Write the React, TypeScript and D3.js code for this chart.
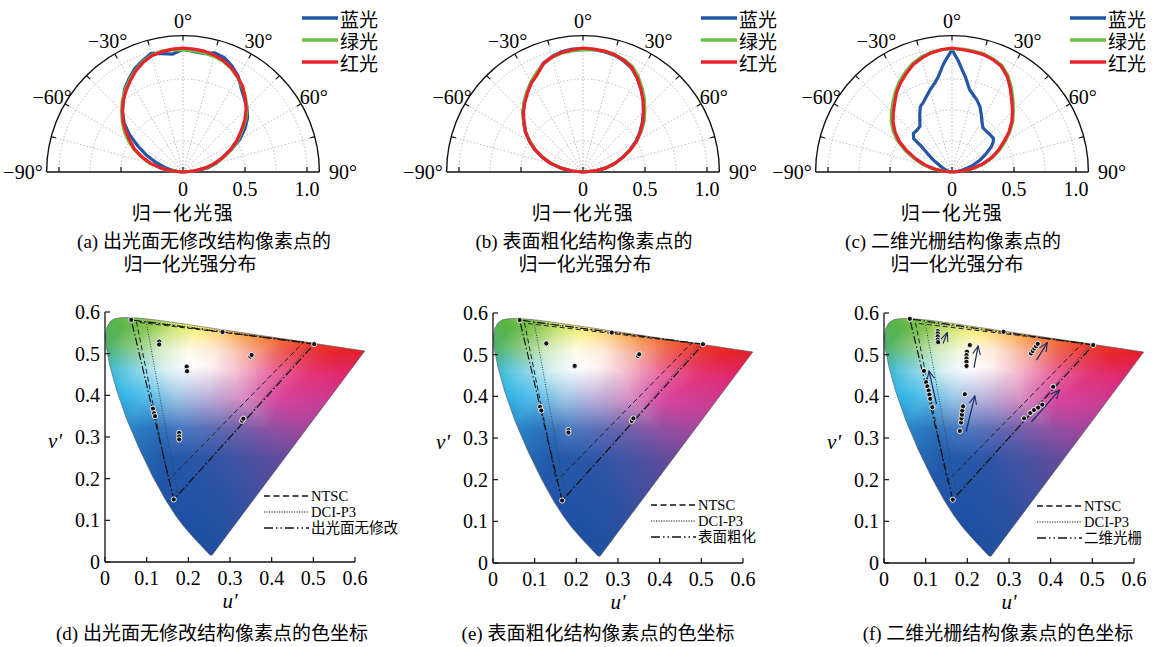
import React, { useMemo } from 'react';
import * as d3 from 'd3';

type Pt = [number, number];

// ---------- polar panels: normalised intensity vs. angle ----------
const ANGLES = [-90, -85, -80, -75, -70, -65, -60, -55, -50, -45, -40, -35, -30, -25, -20, -15, -10, -5, 0,
  5, 10, 15, 20, 25, 30, 35, 40, 45, 50, 55, 60, 65, 70, 75, 80, 85, 90];

const A_BLUE = [0, 0.05, 0.10, 0.16, 0.24, 0.33, 0.42, 0.53, 0.62, 0.69, 0.75, 0.82, 0.87, 0.92, 0.955, 0.99, 0.97, 0.955, 0.99,
  0.975, 0.97, 0.995, 0.98, 0.94, 0.89, 0.82, 0.77, 0.73, 0.68, 0.61, 0.53, 0.43, 0.34, 0.28, 0.21, 0.11, 0];
const A_GREEN = [0, 0.10, 0.19, 0.28, 0.36, 0.44, 0.51, 0.58, 0.64, 0.70, 0.76, 0.81, 0.86, 0.905, 0.945, 0.975, 0.99, 0.99, 0.985,
  0.98, 0.975, 0.965, 0.95, 0.92, 0.88, 0.835, 0.785, 0.73, 0.66, 0.58, 0.51, 0.43, 0.35, 0.27, 0.18, 0.09, 0];
const A_RED = [0, 0.09, 0.18, 0.27, 0.35, 0.43, 0.49, 0.56, 0.63, 0.69, 0.75, 0.80, 0.85, 0.90, 0.94, 0.97, 0.985, 0.995, 1.0,
  0.995, 0.99, 0.975, 0.955, 0.925, 0.885, 0.84, 0.78, 0.72, 0.65, 0.57, 0.50, 0.42, 0.34, 0.26, 0.18, 0.09, 0];

const B_BLUE = [0, 0.09, 0.18, 0.27, 0.35, 0.43, 0.50, 0.57, 0.625, 0.685, 0.735, 0.785, 0.835, 0.88, 0.935, 0.965, 0.985, 0.995, 0.995,
  0.99, 0.985, 0.975, 0.955, 0.925, 0.875, 0.815, 0.755, 0.69, 0.625, 0.56, 0.49, 0.415, 0.335, 0.265, 0.185, 0.095, 0];
const B_GREEN = [0, 0.09, 0.18, 0.265, 0.345, 0.425, 0.495, 0.565, 0.625, 0.685, 0.74, 0.79, 0.84, 0.885, 0.93, 0.96, 0.975, 0.98, 0.985,
  0.99, 0.99, 0.98, 0.965, 0.94, 0.89, 0.83, 0.77, 0.705, 0.645, 0.575, 0.50, 0.42, 0.34, 0.265, 0.185, 0.095, 0];
const B_RED = [0, 0.09, 0.18, 0.27, 0.35, 0.43, 0.50, 0.565, 0.62, 0.68, 0.73, 0.78, 0.83, 0.87, 0.93, 0.96, 0.98, 0.99, 1.0,
  0.995, 0.99, 0.98, 0.96, 0.93, 0.875, 0.815, 0.755, 0.69, 0.63, 0.565, 0.50, 0.42, 0.34, 0.265, 0.19, 0.10, 0];

const C_BLUE_ANGLES = [-90, -80, -70, -65, -60, -57, -53, -50, -49, -45, -40, -35, -30, -26, -22, -18, -15, -11, -8, -5,
  -3, 0, 3, 6, 8, 12, 16, 19, 23, 27, 31, 35, 40, 45, 51, 54, 57, 62, 67, 72, 76, 80, 85, 90];
const C_BLUE = [0, 0.03, 0.06, 0.09, 0.13, 0.18, 0.25, 0.32, 0.41, 0.44, 0.44, 0.45, 0.52, 0.585, 0.61, 0.65, 0.685, 0.73, 0.78, 0.86,
  0.91, 0.985, 0.905, 0.82, 0.775, 0.68, 0.64, 0.615, 0.575, 0.52, 0.47, 0.435, 0.43, 0.43, 0.43, 0.41, 0.38, 0.31, 0.246, 0.18,
  0.122, 0.08, 0.04, 0];
const C_GREEN = [0, 0.08, 0.165, 0.25, 0.33, 0.42, 0.51, 0.58, 0.64, 0.69, 0.74, 0.795, 0.845, 0.89, 0.93, 0.96, 0.98, 0.99, 0.995,
  0.995, 0.99, 0.985, 0.97, 0.95, 0.90, 0.835, 0.765, 0.70, 0.64, 0.57, 0.495, 0.425, 0.35, 0.27, 0.185, 0.095, 0];
const C_RED = [0, 0.07, 0.15, 0.23, 0.31, 0.40, 0.49, 0.56, 0.62, 0.67, 0.72, 0.78, 0.83, 0.875, 0.92, 0.95, 0.975, 0.99, 1.0,
  0.99, 0.985, 0.98, 0.965, 0.94, 0.89, 0.82, 0.75, 0.69, 0.63, 0.56, 0.48, 0.41, 0.34, 0.26, 0.175, 0.09, 0];

const LEGEND_NAMES = ['蓝光', '绿光', '红光'];
const LINE_COLORS = ['#2356a8', '#6cbe45', '#e8232a'];
const ANGLE_LABELS = [-90, -60, -30, 0, 30, 60, 90];
const R_TICKS = [0, 0.5, 1.0];

// ---------- CIE 1976 u'v' ----------
const SPECTRAL_LOCUS: Pt[] = [
  [0.2569, 0.0165], [0.2522, 0.0169], [0.2461, 0.0226], [0.2347, 0.0350], [0.2161, 0.0549], [0.2033, 0.0688],
  [0.1877, 0.0871], [0.1690, 0.1120], [0.1441, 0.1510], [0.1147, 0.2044], [0.0828, 0.2708], [0.0521, 0.3427],
  [0.0282, 0.4117], [0.0119, 0.4699], [0.0035, 0.5130], [0.0014, 0.5431], [0.0046, 0.5638], [0.0123, 0.5770],
  [0.0231, 0.5837], [0.0360, 0.5861], [0.0501, 0.5868], [0.0792, 0.5856], [0.1127, 0.5821], [0.1531, 0.5766],
  [0.2026, 0.5694], [0.2623, 0.5604], [0.3315, 0.5501], [0.4035, 0.5393], [0.4692, 0.5296], [0.5203, 0.5219],
  [0.5565, 0.5165], [0.5830, 0.5125], [0.6005, 0.5099], [0.6199, 0.5070], [0.6234, 0.5065],
];
const NTSC: Pt[] = [[0.477, 0.528], [0.0757, 0.5757], [0.152, 0.196]];
const DCI_P3: Pt[] = [[0.4964, 0.5255], [0.0986, 0.5777], [0.1754, 0.1579]];

const D_TRI: Pt[] = [[0.502, 0.523], [0.063, 0.581], [0.165, 0.150]];
const E_TRI: Pt[] = [[0.504, 0.525], [0.064, 0.583], [0.166, 0.150]];
const F_TRI: Pt[] = [[0.502, 0.523], [0.062, 0.586], [0.165, 0.152]];

const D_POINTS: Pt[] = [[0.063, 0.581], [0.282, 0.552], [0.502, 0.523], [0.165, 0.150], [0.130, 0.529], [0.130, 0.522],
  [0.196, 0.469], [0.197, 0.458], [0.349, 0.493], [0.352, 0.497], [0.115, 0.368], [0.118, 0.357], [0.120, 0.350],
  [0.178, 0.310], [0.178, 0.301], [0.178, 0.294], [0.329, 0.339], [0.332, 0.344]];
const E_POINTS: Pt[] = [[0.064, 0.583], [0.285, 0.553], [0.504, 0.525], [0.166, 0.150], [0.128, 0.527], [0.196, 0.473],
  [0.348, 0.497], [0.351, 0.501], [0.113, 0.375], [0.116, 0.366], [0.181, 0.319], [0.181, 0.313], [0.333, 0.341], [0.337, 0.347]];
const F_POINTS: Pt[] = [[0.062, 0.586], [0.287, 0.555], [0.502, 0.523], [0.165, 0.152],
  [0.129, 0.557], [0.129, 0.551], [0.129, 0.544], [0.129, 0.536], [0.130, 0.530],
  [0.206, 0.523], [0.199, 0.507], [0.198, 0.499], [0.198, 0.491], [0.198, 0.483], [0.198, 0.473],
  [0.353, 0.503], [0.357, 0.509], [0.361, 0.515], [0.365, 0.520], [0.369, 0.526],
  [0.096, 0.461], [0.101, 0.434], [0.104, 0.424], [0.107, 0.414], [0.109, 0.404], [0.111, 0.394], [0.116, 0.374],
  [0.182, 0.317], [0.185, 0.337], [0.186, 0.347], [0.187, 0.356], [0.188, 0.366], [0.190, 0.376], [0.194, 0.405],
  [0.336, 0.347], [0.351, 0.360], [0.360, 0.367], [0.370, 0.373], [0.380, 0.380], [0.406, 0.423]];
const F_ARROWS: [number, number, number, number][] = [
  [0.142, 0.527, 0.152, 0.553], [0.216, 0.469, 0.226, 0.521], [0.366, 0.487, 0.392, 0.529],
  [0.126, 0.382, 0.108, 0.461], [0.197, 0.315, 0.218, 0.401], [0.354, 0.339, 0.421, 0.415],
];
const UV_TICKS = [0, 0.1, 0.2, 0.3, 0.4, 0.5, 0.6];

// colour stops used to paint the chromaticity area (u', v', colour)
const GAMUT_STOPS: [number, number, string][] = [
  [-0.02, -0.02, '#1d4f9f'], [0.66, -0.02, '#3a4b9c'], [-0.02, 0.62, '#5ab447'], [0.66, 0.62, '#e4212b'],
  [-0.02, 0.2, '#2465b0'], [-0.02, 0.35, '#2b9bd6'], [-0.02, 0.43, '#2db4e2'], [-0.02, 0.5, '#48b487'],
  [0.15, 0.62, '#c4e06a'], [0.3, 0.62, '#f8bd60'], [0.45, 0.62, '#ee5634'],
  [0.66, 0.45, '#e2265e'], [0.66, 0.35, '#c73c90'], [0.66, 0.2, '#6a4a9a'],
  [0.15, -0.02, '#1d4fa0'], [0.35, -0.02, '#2a4e9e'], [0.5, -0.02, '#4a4c9c'],
  [0.2, 0.05, '#1d50a2'], [0.27, 0.06, '#22509f'],
  [0.12, 0.15, '#2055a8'], [0.2, 0.15, '#2053a6'], [0.3, 0.15, '#2f52a2'], [0.36, 0.14, '#3e4f9e'],
  [0.08, 0.25, '#2369b4'], [0.15, 0.25, '#2259aa'], [0.25, 0.25, '#2f56a7'], [0.35, 0.25, '#4c52a2'], [0.43, 0.25, '#674b9b'],
  [0.05, 0.33, '#2a8ccc'], [0.12, 0.32, '#2c72bc'], [0.2, 0.32, '#4e78bf'], [0.3, 0.32, '#6864ad'], [0.4, 0.32, '#8f52a3'], [0.48, 0.32, '#a2479c'],
  [0.03, 0.4, '#2bb3e6'], [0.1, 0.4, '#58c0ea'], [0.17, 0.39, '#98c2e4'], [0.25, 0.39, '#b8acd8'], [0.33, 0.39, '#d48cc2'], [0.42, 0.39, '#d8449e'], [0.53, 0.38, '#c83e96'],
  [0.01, 0.46, '#3cb9d6'], [0.08, 0.46, '#8ad6e8'], [0.14, 0.46, '#d6f0f2'], [0.2, 0.47, '#ffffff'], [0.25, 0.47, '#fff6f6'],
  [0.31, 0.46, '#f6c8d6'], [0.4, 0.45, '#e86aa4'], [0.5, 0.45, '#e23478'], [0.58, 0.44, '#e0287a'],
  [0.01, 0.52, '#52b36a'], [0.07, 0.52, '#8fcb80'], [0.13, 0.51, '#d4ecc4'], [0.2, 0.51, '#fffbe8'], [0.27, 0.51, '#fde8d8'],
  [0.35, 0.5, '#f6aa9a'], [0.45, 0.5, '#ec4e52'], [0.55, 0.5, '#e6262e'],
  [0.04, 0.565, '#5ab447'], [0.1, 0.565, '#86c54e'], [0.16, 0.56, '#d0e676'], [0.22, 0.56, '#fcf07c'], [0.28, 0.55, '#fcd07a'],
  [0.35, 0.54, '#f59a4c'], [0.42, 0.53, '#f06a3a'], [0.5, 0.52, '#ea3a2e'], [0.6, 0.508, '#e4202b'],
];

const SERIF = "'Liberation Serif', 'Times New Roman', serif";
const MIXED = "'Liberation Serif', 'Noto Sans CJK SC', serif";
const CJK = "'Noto Sans CJK SC', sans-serif";

const PX_PER_UNIT = 250 / 0.6;

function makeGamutImage(): string {
  const k = PX_PER_UNIT * 2;
  const W = Math.ceil(0.64 * k), H = Math.ceil(0.6 * k);
  const canvas = document.createElement('canvas');
  canvas.width = W; canvas.height = H;
  const ctx = canvas.getContext('2d');
  if (!ctx) return '';
  const img = ctx.createImageData(W, H);
  const pts = GAMUT_STOPS.map(s => [s[0] * k, (0.6 - s[1]) * k]);
  const cols = GAMUT_STOPS.map(s => d3.rgb(s[2]));
  const tri = d3.Delaunay.from(pts).triangles;
  for (let t = 0; t < tri.length; t += 3) {
    const a = tri[t], b = tri[t + 1], c = tri[t + 2];
    const [x1, y1] = pts[a], [x2, y2] = pts[b], [x3, y3] = pts[c];
    const det = (y2 - y3) * (x1 - x3) + (x3 - x2) * (y1 - y3);
    if (Math.abs(det) < 1e-9) continue;
    const x0 = Math.max(0, Math.floor(Math.min(x1, x2, x3))), xe = Math.min(W - 1, Math.ceil(Math.max(x1, x2, x3)));
    const y0 = Math.max(0, Math.floor(Math.min(y1, y2, y3))), ye = Math.min(H - 1, Math.ceil(Math.max(y1, y2, y3)));
    for (let py = y0; py <= ye; py++) {
      for (let px = x0; px <= xe; px++) {
        const X = px + 0.5, Y = py + 0.5;
        const l1 = ((y2 - y3) * (X - x3) + (x3 - x2) * (Y - y3)) / det;
        const l2 = ((y3 - y1) * (X - x3) + (x1 - x3) * (Y - y3)) / det;
        const l3 = 1 - l1 - l2;
        if (l1 < -1e-6 || l2 < -1e-6 || l3 < -1e-6) continue;
        const i = (py * W + px) * 4;
        img.data[i] = l1 * cols[a].r + l2 * cols[b].r + l3 * cols[c].r;
        img.data[i + 1] = l1 * cols[a].g + l2 * cols[b].g + l3 * cols[c].g;
        img.data[i + 2] = l1 * cols[a].b + l2 * cols[b].b + l3 * cols[c].b;
        img.data[i + 3] = 255;
      }
    }
  }
  ctx.putImageData(img, 0, 0);
  return canvas.toDataURL();
}

const zip = (angles: number[], vals: number[]): Pt[] => angles.map((a, i) => [a, vals[i]]);

function PolarPanel({ cx, data, legendX, cap1, cap1X, cap2X }: {
  cx: number; data: Pt[][]; legendX: number; cap1: string; cap1X: number; cap2X: number;
}) {
  const cy = 172;
  const r = d3.scaleLinear().domain([0, 1]).range([0, 124]);
  const rMax = r(1.1);
  const rad = (deg: number) => (deg * Math.PI) / 180;
  const radial = d3.lineRadial<Pt>().angle(d => rad(d[0])).radius(d => r(d[1]));
  const pos = (deg: number, rr: number): Pt => [cx + rr * Math.sin(rad(deg)), cy - rr * Math.cos(rad(deg))];
  const semi = (rr: number) => `M${cx - rr},${cy} A${rr},${rr} 0 0 1 ${cx + rr},${cy}`;
  const spokes = [-75, -60, -45, -30, -15, 0, 15, 30, 45, 60, 75];
  return (
    <g>
      {[0.25, 0.5, 0.75, 1.0].map(v => (
        <path key={v} d={semi(r(v))} fill="none" stroke="#b5b5b5" strokeWidth={0.9} strokeDasharray="1.5,2" />
      ))}
      {spokes.map(a => {
        const [x2, y2] = pos(a, rMax);
        return <line key={a} x1={cx} y1={cy} x2={x2} y2={y2} stroke="#b5b5b5" strokeWidth={0.9} strokeDasharray="1.5,2" />;
      })}
      <path d={semi(rMax)} fill="none" stroke="#111" strokeWidth={1.4} />
      <line x1={cx - rMax} y1={cy} x2={cx + rMax} y2={cy} stroke="#111" strokeWidth={1.6} />
      {spokes.map(a => {
        const [x1, y1] = pos(a, rMax);
        const [x2, y2] = pos(a, rMax - 5);
        return <line key={'t' + a} x1={x1} y1={y1} x2={x2} y2={y2} stroke="#111" strokeWidth={1.2} />;
      })}
      {[-1, -0.5, 0, 0.5, 1].map(v => (
        <line key={'b' + v} x1={cx + r(v)} y1={cy} x2={cx + r(v)} y2={cy - 5} stroke="#111" strokeWidth={1.2} />
      ))}
      {data.map((d, i) => (
        <path key={i} d={radial(d) || ''} transform={`translate(${cx},${cy})`} fill="none"
          stroke={LINE_COLORS[i]} strokeWidth={3.2} strokeLinejoin="round" />
      ))}
      {ANGLE_LABELS.map(a => {
        const [x, y] = pos(a, Math.abs(a) === 90 ? 160 : 151);
        return (
          <text key={'l' + a} x={x} y={y} textAnchor="middle" dominantBaseline="central" fontFamily={SERIF} fontSize={20}>
            {a < 0 ? `−${-a}°` : `${a}°`}
          </text>
        );
      })}
      {R_TICKS.map(v => (
        <text key={'r' + v} x={cx + r(v)} y={196} textAnchor="middle" fontFamily={SERIF} fontSize={20}>
          {v === 0 ? '0' : v.toFixed(1)}
        </text>
      ))}
      {LEGEND_NAMES.map((n, i) => (
        <g key={n}>
          <line x1={legendX} x2={legendX + 36} y1={18 + i * 22} y2={18 + i * 22} stroke={LINE_COLORS[i]} strokeWidth={3.5} />
          <text x={legendX + 38} y={18 + i * 22} dominantBaseline="central" fontFamily={CJK} fontSize={19}>{n}</text>
        </g>
      ))}
      <text x={cx} y={220} textAnchor="middle" fontFamily={CJK} fontSize={19} letterSpacing={1.5}>归一化光强</text>
      <text x={cap1X} y={248} textAnchor="middle" fontFamily={MIXED} fontSize={19}>{cap1}</text>
      <text x={cap2X} y={271} textAnchor="middle" fontFamily={CJK} fontSize={19}>归一化光强分布</text>
    </g>
  );
}

function CiePanel({ id, ox, oy, img, tri, points, arrows, legendX, legendY, legendLabel, caption, captionX }: {
  id: string; ox: number; oy: number; img: string; tri: Pt[]; points: Pt[];
  arrows?: [number, number, number, number][]; legendX: number; legendY: number;
  legendLabel: string; caption: string; captionX: number;
}) {
  const x = d3.scaleLinear().domain([0, 0.6]).range([ox, ox + 250]);
  const y = d3.scaleLinear().domain([0, 0.6]).range([oy, oy - 250]);
  const line = d3.line<Pt>().x(d => x(d[0])).y(d => y(d[1]));
  const closed = (p: Pt[]) => (line(p) || '') + 'Z';
  const locus = closed(SPECTRAL_LOCUS);
  const legendRows = [
    { label: 'NTSC', dash: '6,3.5', w: 1.4 },
    { label: 'DCI-P3', dash: '1.2,1.3', w: 1.2 },
    { label: legendLabel, dash: '9,3,1.5,3,1.5,3', w: 1.6 },
  ];
  return (
    <g>
      <defs>
        <clipPath id={'clip' + id}><path d={locus} /></clipPath>
        <marker id={'arr' + id} viewBox="0 0 10 10" refX="9" refY="5" markerWidth="8" markerHeight="8" orient="auto">
          <path d="M0,1 L9,5 L0,9" fill="none" stroke="#1b2a63" strokeWidth={1.1} />
        </marker>
      </defs>
      <image href={img} x={x(0)} y={y(0.6)} width={x(0.64) - x(0)} height={y(0) - y(0.6)}
        preserveAspectRatio="none" clipPath={`url(#clip${id})`} />
      <path d={locus} fill="none" stroke="#555" strokeWidth={0.6} />
      <path d={closed(NTSC)} fill="none" stroke="#222" strokeWidth={1} strokeDasharray="5,3" />
      <path d={closed(DCI_P3)} fill="none" stroke="#2a4a4a" strokeWidth={1} strokeDasharray="1,1.5" />
      <path d={closed(tri)} fill="none" stroke="#111" strokeWidth={1.2} strokeDasharray="8,2.5,1.5,2.5" />
      {(arrows || []).map((a, i) => (
        <line key={i} x1={x(a[0])} y1={y(a[1])} x2={x(a[2])} y2={y(a[3])} stroke="#1b2a63" strokeWidth={1.2}
          markerEnd={`url(#arr${id})`} />
      ))}
      {points.map((p, i) => (
        <circle key={i} cx={x(p[0])} cy={y(p[1])} r={2.6} fill="#111" stroke="#fff" strokeWidth={0.9} />
      ))}
      <line x1={x(0)} y1={y(0)} x2={x(0.6)} y2={y(0)} stroke="#111" strokeWidth={1.3} />
      <line x1={x(0)} y1={y(0)} x2={x(0)} y2={y(0.6)} stroke="#111" strokeWidth={1.3} />
      {UV_TICKS.map(t => (
        <g key={t}>
          <line x1={x(t)} x2={x(t)} y1={y(0)} y2={y(0) - 5} stroke="#111" strokeWidth={1.2} />
          <line x1={x(0)} x2={x(0) + 5} y1={y(t)} y2={y(t)} stroke="#111" strokeWidth={1.2} />
          <text x={x(t)} y={y(0) + 23} textAnchor="middle" fontFamily={SERIF} fontSize={20}>{t === 0 ? '0' : t.toFixed(1)}</text>
          <text x={x(0) - 5} y={y(t)} textAnchor="end" dominantBaseline="central" fontFamily={SERIF} fontSize={20}>
            {t === 0 ? '0' : t.toFixed(1)}
          </text>
        </g>
      ))}
      <text x={x(0) - 50} y={y(0.29)} textAnchor="middle" dominantBaseline="central" fontFamily={SERIF}
        fontStyle="italic" fontSize={21}>v'</text>
      <text x={x(0.3)} y={y(0) + 46} textAnchor="middle" fontFamily={SERIF} fontStyle="italic" fontSize={21}>u'</text>
      {legendRows.map((row, i) => {
        const yy = legendY + i * 16;
        return (
          <g key={row.label}>
            <line x1={legendX} x2={legendX + 45} y1={yy} y2={yy} stroke="#111" strokeWidth={row.w} strokeDasharray={row.dash} />
            <text x={legendX + 47} y={yy} dominantBaseline="central" fontFamily={MIXED} fontSize={14.5}>{row.label}</text>
          </g>
        );
      })}
      <text x={captionX} y={640} textAnchor="middle" fontFamily={MIXED} fontSize={19}>{caption}</text>
    </g>
  );
}

export default function App() {
  const img = useMemo(() => makeGamutImage(), []);
  const a = [zip(ANGLES, A_BLUE), zip(ANGLES, A_GREEN), zip(ANGLES, A_RED)];
  const b = [zip(ANGLES, B_BLUE), zip(ANGLES, B_GREEN), zip(ANGLES, B_RED)];
  const c = [zip(C_BLUE_ANGLES, C_BLUE), zip(ANGLES, C_GREEN), zip(ANGLES, C_RED)];
  return (
    <svg width={1166} height={647} style={{ position: 'absolute', left: 0, top: 0, background: '#fff' }}>
      <PolarPanel cx={183} data={a} legendX={302} cap1="(a) 出光面无修改结构像素点的" cap1X={204} cap2X={190} />
      <PolarPanel cx={583} data={b} legendX={701} cap1="(b) 表面粗化结构像素点的" cap1X={584} cap2X={585} />
      <PolarPanel cx={952} data={c} legendX={1070} cap1="(c) 二维光栅结构像素点的" cap1X={953} cap2X={957} />
      <CiePanel id="d" ox={105} oy={562} img={img} tri={D_TRI} points={D_POINTS} legendX={264} legendY={496}
        legendLabel="出光面无修改" caption="(d) 出光面无修改结构像素点的色坐标" captionX={212} />
      <CiePanel id="e" ox={493} oy={563} img={img} tri={E_TRI} points={E_POINTS} legendX={651} legendY={505}
        legendLabel="表面粗化" caption="(e) 表面粗化结构像素点的色坐标" captionX={598} />
      <CiePanel id="f" ox={884} oy={563} img={img} tri={F_TRI} points={F_POINTS} arrows={F_ARROWS} legendX={1037}
        legendY={506} legendLabel="二维光栅" caption="(f) 二维光栅结构像素点的色坐标" captionX={998} />
    </svg>
  );
}
